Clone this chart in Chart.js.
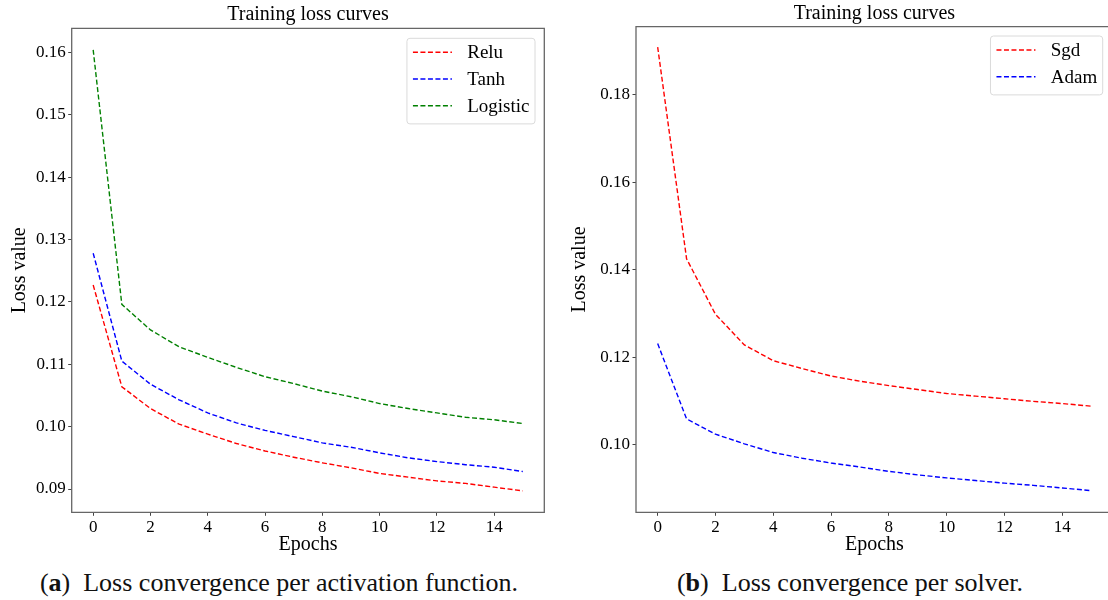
<!DOCTYPE html>
<html><head><meta charset="utf-8">
<script src="https://cdn.jsdelivr.net/npm/chart.js@4.4.0/dist/chart.umd.min.js"></script>
<style>
html,body{margin:0;padding:0;background:#fff;width:1108px;height:600px;overflow:hidden;position:relative;}
#c1{position:absolute;left:0;top:0;}
#w2{position:absolute;left:560px;top:0;width:548px;height:560px;overflow:hidden;}
#c2{position:absolute;left:0;top:0;}
.cap{position:absolute;top:568px;font-family:"Liberation Serif","Times New Roman",serif;font-size:26px;color:#111;white-space:nowrap;transform:translateX(-50%);}
</style></head><body>
<canvas id="c1" width="556" height="560"></canvas>
<div id="w2"><canvas id="c2" width="560" height="560"></canvas></div>
<div class="cap" style="left:279px">(<b>a</b>)&nbsp; Loss convergence per activation function.</div>
<div class="cap" style="left:850px">(<b>b</b>)&nbsp; Loss convergence per solver.</div>
<script>
const epochs = [0,1,2,3,4,5,6,7,8,9,10,11,12,13,14,15];
const reluLoss = [0.1227,0.1064,0.1029,0.1004,0.0988,0.0973,0.0961,0.0951,0.0942,0.0934,0.0925,0.0919,0.0913,0.0909,0.0903,0.0897];
const tanhLoss = [0.1278,0.1105,0.1068,0.1043,0.1022,0.1006,0.0994,0.0984,0.0974,0.0967,0.0958,0.0950,0.0944,0.0939,0.0935,0.0928];
const logisticLoss = [0.1604,0.1196,0.1155,0.1128,0.1111,0.1095,0.1080,0.1069,0.1057,0.1048,0.1037,0.1029,0.1022,0.1015,0.1011,0.1005];
const sgdLoss = [0.1909,0.1425,0.1298,0.1228,0.1192,0.1174,0.1157,0.1145,0.1135,0.1126,0.1117,0.1111,0.1105,0.1099,0.1094,0.1088];
const adamLoss = [0.1231,0.1059,0.1024,0.1002,0.0982,0.0969,0.0958,0.0949,0.0939,0.0931,0.0924,0.0918,0.0912,0.0907,0.0901,0.0895];
const xTicks = [0,2,4,6,8,10,12,14];
const leftYTicks = [0.09,0.10,0.11,0.12,0.13,0.14,0.15,0.16];
const rightYTicks = [0.10,0.12,0.14,0.16,0.18];
const titleText = 'Training loss curves';
const xTitle = 'Epochs';
const yTitle = 'Loss value';

const SERIF = "'Liberation Serif', 'Times New Roman', serif";

const frameLegend = {
  id: 'frameLegend',
  afterDraw(chart, args, opts) {
    const ctx = chart.ctx, a = chart.chartArea;
    ctx.save();
    ctx.strokeStyle = '#666'; ctx.lineWidth = 1.3;
    ctx.beginPath();
    if (opts.rightEdge) {
      ctx.rect(a.left, a.top, a.right - a.left, a.bottom - a.top);
    } else {
      ctx.moveTo(a.right + 2, a.top); ctx.lineTo(a.left, a.top);
      ctx.lineTo(a.left, a.bottom); ctx.lineTo(a.right + 2, a.bottom);
    }
    ctx.stroke();
    const ds = chart.data.datasets;
    ctx.font = "normal 400 19px " + SERIF;
    const tw = Math.max(...ds.map(d => ctx.measureText(d.label).width));
    const lineLen = 39, padL = 6, gap = 15.3, padR = 5.5, rowH = 26.7;
    const w = padL + lineLen + gap + tw + padR;
    const h = ds.length * rowH + 5.5;
    const right = a.right - opts.dx, top = a.top + opts.dy, left = right - w;
    ctx.beginPath();
    ctx.roundRect(left, top, w, h, 3);
    ctx.fillStyle = 'rgba(255,255,255,0.8)'; ctx.fill();
    ctx.strokeStyle = '#dadada'; ctx.lineWidth = 1; ctx.stroke();
    ds.forEach((d, i) => {
      const y = top + 14 + i * rowH;
      ctx.beginPath();
      ctx.setLineDash([5, 2.5]);
      ctx.strokeStyle = d.borderColor; ctx.lineWidth = 1.4;
      ctx.moveTo(left + padL, y); ctx.lineTo(left + padL + lineLen, y); ctx.stroke();
      ctx.setLineDash([]);
      ctx.fillStyle = '#000'; ctx.textBaseline = 'middle'; ctx.textAlign = 'left';
      ctx.fillText(d.label, left + padL + lineLen + gap, y + 1);
    });
    ctx.restore();
  }
};

function ds(label, values, color) {
  return {
    label, data: epochs.map((e, i) => ({x: e, y: values[i]})),
    borderColor: color, backgroundColor: color, borderWidth: 1.4,
    borderDash: [5, 2.5], pointRadius: 0, tension: 0, fill: false
  };
}

function makeChart(id, datasets, yMin, yMax, yTicks, yWidth, titlePad, padRight, legendOff) {
  return new Chart(document.getElementById(id), {
    type: 'line',
    data: {datasets},
    plugins: [frameLegend],
    options: {
      responsive: false, animation: false, devicePixelRatio: 1,
      font: {family: SERIF},
      layout: {padding: {left: 0, right: padRight, top: 0, bottom: 0}},
      plugins: {
        legend: {display: false}, tooltip: {enabled: false},
        title: {display: true, text: titleText, fullSize: false, color: '#000',
          font: {family: SERIF, size: 20, weight: 'normal', lineHeight: 1}, padding: titlePad},
        frameLegend: legendOff
      },
      scales: {
        x: {
          type: 'linear', min: -0.75, max: 15.75,
          afterBuildTicks: s => { s.ticks = xTicks.map(v => ({value: v})); },
          afterFit: s => { s.height = 47.7; },
          ticks: {color: '#000', font: {family: SERIF, size: 17, weight: 'normal'}, padding: 2, maxRotation: 0, autoSkip: false,
            callback: v => String(v)},
          grid: {drawOnChartArea: false, drawTicks: true, tickLength: 3.5, tickColor: '#444', tickWidth: 1},
          border: {display: false},
          title: {display: true, text: xTitle, color: '#000', font: {family: SERIF, size: 20, weight: 'normal', lineHeight: 1.2}, padding: {top: 0, bottom: 3}}
        },
        y: {
          type: 'linear', min: yMin, max: yMax,
          afterBuildTicks: s => { s.ticks = yTicks.map(v => ({value: v})); },
          afterFit: s => { s.width = yWidth; },
          ticks: {color: '#000', font: {family: SERIF, size: 17, weight: 'normal'}, padding: 2.5, autoSkip: false,
            callback: v => v.toFixed(2)},
          grid: {drawOnChartArea: false, drawTicks: true, tickLength: 3.5, tickColor: '#444', tickWidth: 1},
          border: {display: false},
          title: {display: true, text: yTitle, color: '#000', font: {family: SERIF, size: 20, weight: 'normal', lineHeight: 1.2}, padding: {top: 8, bottom: 0}}
        }
      }
    }
  });
}

function draw() {
  Chart.defaults.font.family = SERIF;
  makeChart('c1', [ds('Relu', reluLoss, '#ff0000'), ds('Tanh', tanhLoss, '#0000ff'), ds('Logistic', logisticLoss, '#008000')],
    0.08627, 0.16385, leftYTicks, 71.7, {top: 5, bottom: 3.3}, 11.7, {dx: 9.3, dy: 10, rightEdge: true});
  makeChart('c2', [ds('Sgd', sgdLoss, '#ff0000'), ds('Adam', adamLoss, '#0000ff')],
    0.08454, 0.19555, rightYTicks, 76, {top: 4, bottom: 2.7}, 7.2, {dx: 10.1, dy: 9.3, rightEdge: false});
}
Promise.all([
  document.fonts.load("17px 'Liberation Serif'"),
  document.fonts.load("bold 17px 'Liberation Serif'")
]).then(draw, draw);
</script>
</body></html>
